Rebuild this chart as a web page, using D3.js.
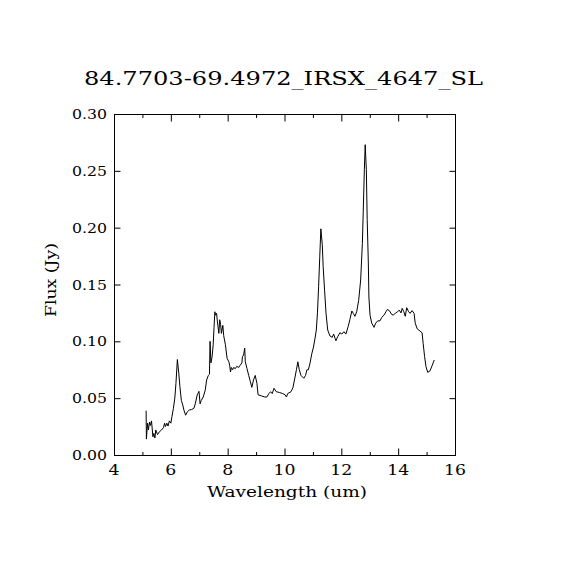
<!DOCTYPE html>
<html>
<head>
<meta charset="utf-8">
<script src="https://cdn.jsdelivr.net/npm/d3@7"></script>
<style>
  html, body { margin: 0; padding: 0; background: #fff; }
  svg { display: block; }
  text { font-family: "DejaVu Serif", "Liberation Serif", serif; fill: #000; }
</style>
</head>
<body>
<svg id="chart" width="570" height="570"></svg>
<script>
const titleText = "84.7703-69.4972_IRSX_4647_SL";
const xLabel = "Wavelength (um)";
const yLabel = "Flux (Jy)";

const xTicks = [4, 6, 8, 10, 12, 14, 16];
const xMinorTicks = [5, 7, 9, 11, 13, 15];
const yTicks = [0.00, 0.05, 0.10, 0.15, 0.20, 0.25, 0.30];
const yTickLabels = ["0.00", "0.05", "0.10", "0.15", "0.20", "0.25", "0.30"];

const wavelength = [
  5.13, 5.14, 5.18, 5.21, 5.25, 5.28, 5.32, 5.37, 5.40, 5.44, 5.47, 5.53, 5.60, 5.67, 5.74, 5.78, 5.81, 5.86, 5.90, 5.95,
  6.00, 6.04, 6.09, 6.14, 6.18, 6.23, 6.28, 6.32, 6.37, 6.42, 6.46, 6.52, 6.58, 6.65, 6.73, 6.81, 6.86, 6.93, 6.99, 7.03,
  7.07, 7.14, 7.21, 7.26, 7.32, 7.36, 7.38, 7.41, 7.45, 7.49, 7.52, 7.55, 7.57, 7.61, 7.64, 7.69, 7.72, 7.75, 7.78, 7.83,
  7.86, 7.92, 7.98, 8.04, 8.07, 8.10, 8.13, 8.17, 8.21, 8.27, 8.32, 8.39, 8.44, 8.50, 8.52, 8.56, 8.60, 8.62, 8.68, 8.74,
  8.80, 8.85, 8.91, 8.97, 9.03, 9.07, 9.19, 9.31, 9.38, 9.45, 9.51, 9.57, 9.63, 9.71, 9.82, 9.94, 10.02, 10.07, 10.11, 10.23,
  10.30, 10.35, 10.42, 10.47, 10.52, 10.58, 10.68, 10.74, 10.79, 10.84, 10.90, 10.96, 11.02, 11.07, 11.12, 11.16, 11.20, 11.24, 11.28, 11.33,
  11.36, 11.41, 11.46, 11.52, 11.60, 11.68, 11.73, 11.78, 11.81, 11.87, 11.95, 12.02, 12.09, 12.16, 12.24, 12.30, 12.37, 12.42, 12.48, 12.54,
  12.61, 12.68, 12.74, 12.77, 12.81, 12.84, 12.88, 12.91, 12.95, 12.97, 13.01, 13.07, 13.15, 13.21, 13.28, 13.36, 13.42, 13.50, 13.57, 13.62,
  13.69, 13.77, 13.83, 13.91, 13.98, 14.04, 14.10, 14.14, 14.20, 14.25, 14.30, 14.37, 14.42, 14.49, 14.56, 14.60, 14.67, 14.77, 14.84, 14.88,
  14.93, 14.98, 15.04, 15.12, 15.20, 15.27
];
const flux = [
  0.039, 0.014, 0.028, 0.022, 0.029, 0.026, 0.030, 0.016, 0.019, 0.015, 0.022, 0.018, 0.0205, 0.022, 0.024, 0.028, 0.025, 0.028, 0.0255, 0.030,
  0.028, 0.034, 0.041, 0.050, 0.063, 0.084, 0.072, 0.060, 0.048, 0.044, 0.0396, 0.035, 0.038, 0.0396, 0.040, 0.041, 0.045, 0.053, 0.056, 0.045,
  0.048, 0.051, 0.057, 0.066, 0.070, 0.071, 0.100, 0.081, 0.086, 0.097, 0.112, 0.126, 0.123, 0.1246, 0.117, 0.107, 0.119, 0.115, 0.107, 0.114,
  0.105, 0.097, 0.085, 0.082, 0.079, 0.073, 0.077, 0.075, 0.077, 0.076, 0.078, 0.077, 0.079, 0.081, 0.0865, 0.088, 0.094, 0.082, 0.076, 0.070,
  0.0645, 0.0595, 0.066, 0.070, 0.063, 0.053, 0.052, 0.051, 0.051, 0.054, 0.0557, 0.054, 0.0587, 0.0557, 0.055, 0.054, 0.053, 0.051, 0.054, 0.0557,
  0.0595, 0.066, 0.075, 0.082, 0.075, 0.070, 0.0675, 0.070, 0.075, 0.075, 0.081, 0.089, 0.095, 0.102, 0.110, 0.125, 0.148, 0.174, 0.199, 0.185,
  0.166, 0.145, 0.125, 0.110, 0.1047, 0.1035, 0.1064, 0.1026, 0.1005, 0.104, 0.1076, 0.1064, 0.1085, 0.1064, 0.113, 0.119, 0.1267, 0.1246, 0.122, 0.126,
  0.136, 0.154, 0.186, 0.213, 0.251, 0.273, 0.251, 0.207, 0.169, 0.139, 0.123, 0.116, 0.1123, 0.116, 0.118, 0.118, 0.121, 0.123, 0.126, 0.128,
  0.127, 0.1237, 0.123, 0.125, 0.126, 0.1275, 0.125, 0.129, 0.126, 0.122, 0.1296, 0.126, 0.1246, 0.127, 0.1246, 0.116, 0.111, 0.109, 0.1076, 0.098,
  0.0865, 0.0777, 0.0727, 0.074, 0.079, 0.0836
];

const svg = d3.select("#chart");
const mLeft = 114, mRight = 455, mTop = 114, mBottom = 455;

const x = d3.scaleLinear().domain([4, 16]).range([mLeft, mRight]);
const y = d3.scaleLinear().domain([0, 0.30]).range([mBottom, mTop]);

// frame
svg.append("rect")
  .attr("x", mLeft + 0.5).attr("y", mTop + 0.5)
  .attr("width", mRight - mLeft).attr("height", mBottom - mTop)
  .attr("fill", "none").attr("stroke", "#000").attr("stroke-width", 1);

function tickAxis(axis, tx, ty) {
  const g = svg.append("g").attr("transform", `translate(${tx},${ty})`).call(axis);
  g.select(".domain").remove();
  g.selectAll("text").remove();
  g.selectAll("line").attr("stroke", "#000").attr("stroke-width", 1);
  return g;
}

// x ticks (inward) bottom & top
tickAxis(d3.axisBottom(x).tickValues(xTicks).tickSize(-7).tickFormat(""), 0, mBottom + 0.5);
tickAxis(d3.axisBottom(x).tickValues(xMinorTicks).tickSize(-3.5).tickFormat(""), 0, mBottom + 0.5);
tickAxis(d3.axisTop(x).tickValues(xTicks).tickSize(-7).tickFormat(""), 0, mTop + 0.5);
tickAxis(d3.axisTop(x).tickValues(xMinorTicks).tickSize(-3.5).tickFormat(""), 0, mTop + 0.5);
// y ticks (inward) left & right
tickAxis(d3.axisLeft(y).tickValues(yTicks).tickSize(-6).tickFormat(""), mLeft + 0.5, 0);
tickAxis(d3.axisRight(y).tickValues(yTicks).tickSize(-6).tickFormat(""), mRight + 0.5, 0);

// x tick labels
svg.append("g").selectAll("text").data(xTicks).join("text")
  .attr("x", d => x(d))
  .attr("y", 475)
  .attr("text-anchor", "middle")
  .attr("font-size", 15)
  .attr("textLength", d => String(d).length * 11)
  .attr("lengthAdjust", "spacingAndGlyphs")
  .text(d => String(d));

// y tick labels
svg.append("g").selectAll("text").data(yTicks).join("text")
  .attr("x", 107)
  .attr("y", d => y(d) + 5)
  .attr("text-anchor", "end")
  .attr("font-size", 13)
  .attr("textLength", 35)
  .attr("lengthAdjust", "spacingAndGlyphs")
  .text((d, i) => yTickLabels[i]);

// axis titles
svg.append("text")
  .attr("x", 287).attr("y", 497)
  .attr("text-anchor", "middle")
  .attr("font-size", 15)
  .attr("textLength", 160)
  .attr("lengthAdjust", "spacingAndGlyphs")
  .text(xLabel);

svg.append("text")
  .attr("transform", "translate(56,280) rotate(-90)")
  .attr("text-anchor", "middle")
  .attr("font-size", 14)
  .attr("textLength", 74)
  .attr("lengthAdjust", "spacingAndGlyphs")
  .text(yLabel);

// title
svg.append("text")
  .attr("x", 283.5).attr("y", 85)
  .attr("text-anchor", "middle")
  .attr("font-size", 18)
  .attr("textLength", 399)
  .attr("lengthAdjust", "spacingAndGlyphs")
  .text(titleText);

// spectrum
const pts = wavelength.map((w, i) => [w, flux[i]]);
svg.append("path")
  .datum(pts)
  .attr("fill", "none")
  .attr("stroke", "#000")
  .attr("stroke-width", 1)
  .attr("d", d3.line().x(d => x(d[0])).y(d => y(d[1])));
</script>
</body>
</html>
